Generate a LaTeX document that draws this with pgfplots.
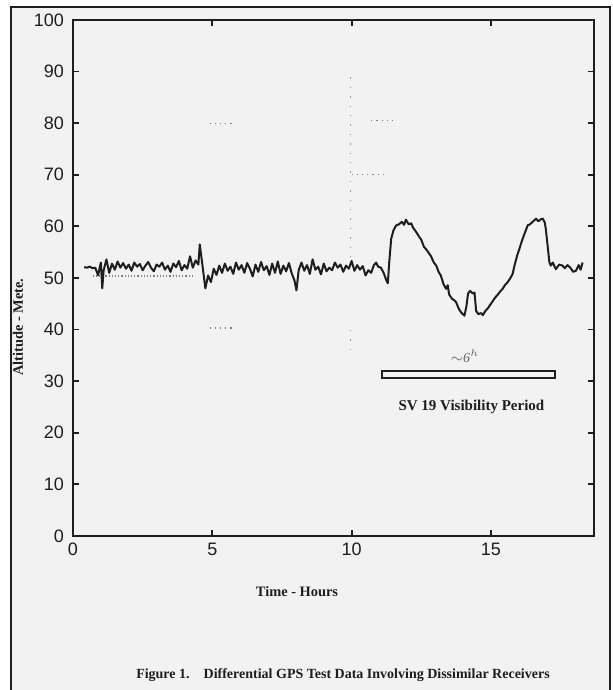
\documentclass[border=0pt]{standalone}
\usepackage{fontspec}
\setmainfont{Liberation Serif}
\newfontfamily\tickfont{Liberation Sans}
\usepackage{pgfplots}
\pgfplotsset{compat=1.18}
\definecolor{paper}{RGB}{242,242,242}
\definecolor{ink}{RGB}{30,30,30}
\begin{document}
\begin{tikzpicture}
\useasboundingbox (0,0) rectangle (306pt,345pt);
\fill[white] (0,0) rectangle (306pt,345pt);
\fill[paper] (5.5pt,0) rectangle (305pt,341.5pt);
\draw[line width=1.2pt, ink] (5.5pt,0) -- (5.5pt,341.5pt) -- (305pt,341.5pt) -- (305pt,0);
\begin{axis}[
  at={(36.5pt,77pt)}, anchor=south west,
  scale only axis,
  width=260.5pt, height=258pt,
  xmin=0, xmax=18.7,
  ymin=0, ymax=100,
  xtick={0,5,10,15},
  ytick={0,10,...,100},
  tick align=inside,
  major tick length=3pt,
  axis line style={line width=1pt, ink},
  tick style={line width=0.9pt, ink},
  /pgf/number format/assume math mode=true,
  ticklabel style={font=\tickfont\fontsize{9}{10}\selectfont, text=ink},
  yticklabel style={xshift=-1pt},
  clip=false,
]
% faint dotted grid remnants of the scan
\addplot[densely dotted, gray, line width=0.6pt] coordinates {(0.7,50.4) (4.3,50.4)};
\addplot[loosely dotted, gray!80, line width=0.7pt] coordinates {(9.95,54) (9.95,90.3)};
\addplot[loosely dotted, gray!80, line width=0.7pt] coordinates {(9.95,36) (9.95,40.5)};
\addplot[dotted, gray, line width=0.6pt] coordinates {(4.9,80) (5.7,80)};
\addplot[dotted, gray, line width=0.6pt] coordinates {(10.0,70) (11.3,70)};
\addplot[dotted, gray, line width=0.6pt] coordinates {(4.9,40.3) (5.8,40.3)};
\addplot[dotted, gray, line width=0.6pt] coordinates {(10.7,80.5) (11.5,80.5)};
% altitude trace
\addplot[ink, line width=1pt, line join=round] coordinates {
(0.4,52.1) (0.5,52.0) (0.6,52.2) (0.7,51.9) (0.8,52.0) (0.9,50.5) (1.0,53.0)
(1.05,48.0) (1.1,51.5) (1.2,53.6) (1.3,51.0) (1.4,52.8) (1.5,51.6) (1.6,53.2)
(1.7,52.0) (1.8,52.9) (1.9,51.8) (2.0,52.6) (2.1,51.4) (2.2,53.0) (2.3,52.2)
(2.4,52.7) (2.5,51.5) (2.6,52.4) (2.7,53.1) (2.8,52.0) (2.9,51.3) (3.0,52.6)
(3.1,52.2) (3.2,53.0) (3.3,51.6) (3.4,52.4) (3.5,51.2) (3.6,52.8) (3.7,52.1)
(3.8,53.3) (3.9,51.5) (4.0,52.5) (4.1,51.8) (4.2,54.2) (4.3,52.0) (4.4,53.4)
(4.5,52.6) (4.55,56.5) (4.65,52.3) (4.75,48.0) (4.85,50.5) (4.95,49.2) (5.05,51.8)
(5.15,50.6) (5.25,52.4) (5.35,51.0) (5.45,52.8) (5.55,51.4) (5.65,52.2) (5.75,50.8)
(5.85,53.0) (5.95,51.6) (6.05,52.5) (6.15,51.0) (6.25,52.9) (6.35,51.8) (6.45,50.3)
(6.55,52.6) (6.65,51.2) (6.75,53.1) (6.85,51.5) (6.95,52.3) (7.05,50.6) (7.15,52.8)
(7.25,51.0) (7.35,53.2) (7.45,50.8) (7.55,52.4) (7.65,51.3) (7.75,52.9) (7.85,50.9)
(7.95,49.5) (8.02,47.6) (8.1,51.5) (8.2,53.0) (8.3,51.4) (8.4,52.5) (8.5,50.8)
(8.6,53.6) (8.7,51.6) (8.8,52.2) (8.9,50.7) (9.0,52.8) (9.1,51.3) (9.2,52.0)
(9.3,51.5) (9.4,53.0) (9.5,52.0) (9.6,52.6) (9.7,51.2) (9.8,52.4) (9.9,51.8)
(10.0,53.3) (10.1,51.4) (10.2,52.5) (10.3,51.6) (10.4,52.3) (10.5,50.5) (10.6,51.5)
(10.7,51.0) (10.8,52.5) (10.88,53.0) (10.95,52.2) (11.05,52.0) (11.15,51.0) (11.25,49.5)
(11.3,49.0) (11.35,53.0) (11.42,57.6) (11.5,59.2) (11.6,60.2) (11.7,60.4) (11.8,60.9)
(11.88,60.3) (11.95,61.3) (12.05,60.4) (12.14,60.6) (12.2,59.8) (12.32,58.9) (12.4,58.2)
(12.5,57.4) (12.6,56.0) (12.67,55.6) (12.75,55.0) (12.85,54.2) (12.95,53.0) (13.04,52.4)
(13.12,51.2) (13.2,50.5) (13.3,48.8) (13.39,47.9) (13.45,48.6) (13.5,46.8) (13.6,46.0)
(13.7,45.6) (13.75,45.3) (13.85,44.0) (13.95,43.2) (14.05,42.7) (14.12,44.5) (14.18,47.0)
(14.25,47.5) (14.35,47.0) (14.41,47.2) (14.47,43.6) (14.55,43.0) (14.65,43.2) (14.71,42.8)
(14.8,43.6) (14.9,44.2) (14.95,44.6) (15.05,45.4) (15.15,46.2) (15.25,46.8) (15.35,47.5)
(15.42,47.9) (15.5,48.6) (15.6,49.2) (15.7,50.0) (15.78,50.8) (15.85,52.5) (15.95,54.5)
(16.02,55.6) (16.1,57.0) (16.2,58.5) (16.32,60.2) (16.4,60.4) (16.5,60.9) (16.62,61.5)
(16.7,61.0) (16.8,61.4) (16.86,61.5) (16.93,60.8) (16.97,59.5) (17.05,55.5) (17.1,53.0)
(17.15,52.4) (17.22,53.0) (17.33,51.7) (17.45,52.6) (17.57,52.4) (17.65,51.9) (17.75,52.5)
(17.85,52.0) (17.95,51.2) (18.05,51.4) (18.15,52.5) (18.22,51.6) (18.29,53.0)
};
% visibility period bar
\draw[ink, line width=0.9pt, fill=paper] (axis cs:11.09,30.6) rectangle (axis cs:17.29,32.0);
\node[font=\bfseries\fontsize{7.5}{9}\selectfont, text=ink] at (axis cs:14.3,25.0) {SV 19 Visibility Period};
\node[font=\itshape\fontsize{7}{8}\selectfont, text=black!60] at (axis cs:14.07,34.9) {$\sim$6$^{h}$};
\end{axis}
\node[font=\bfseries\fontsize{7.2}{9}\selectfont, text=ink, rotate=90] at (9pt,181.5pt) {Altitude - Mete.};
\node[font=\bfseries\fontsize{7.2}{9}\selectfont, text=ink] at (148.5pt,49pt) {Time - Hours};
\node[font=\bfseries\fontsize{7}{9}\selectfont, text=ink] at (171.5pt,7.5pt) {Figure 1.\quad Differential GPS Test Data Involving Dissimilar Receivers};
\end{tikzpicture}
\end{document}
